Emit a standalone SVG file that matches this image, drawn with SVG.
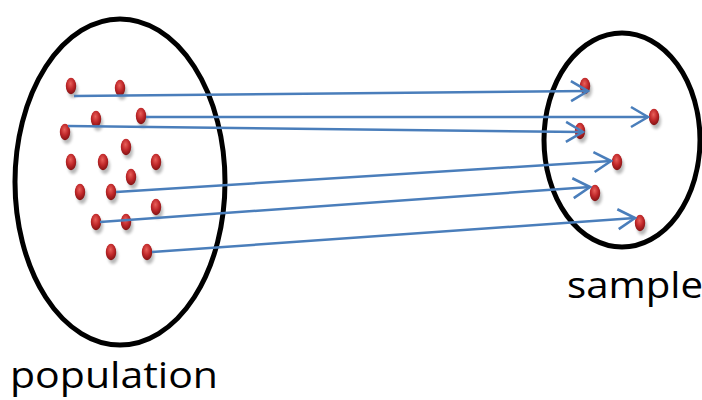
<svg xmlns="http://www.w3.org/2000/svg" width="702" height="400" viewBox="0 0 702 400">
<style>
.set{fill:none;stroke:#000;stroke-width:5}
.dot{fill:url(#red)}
.sh{fill:#000;opacity:0.28;filter:url(#blur)}
.conn path{fill:none;stroke:#4a7ebb;stroke-width:2.5;marker-end:url(#arr)}
.lbl{font-family:"Open Sans","Liberation Sans",sans-serif;font-size:36px;fill:#000}
</style>
<defs>
<radialGradient id="red" cx="0.45" cy="0.35" r="0.7">
<stop offset="0" stop-color="#e8605a"/>
<stop offset="0.5" stop-color="#c0282a"/>
<stop offset="1" stop-color="#7a0f10"/>
</radialGradient>
<filter id="blur" x="-1" y="-1" width="3" height="3"><feGaussianBlur stdDeviation="1.8"/></filter>
<marker id="arr" markerUnits="userSpaceOnUse" viewBox="-2 -2 21 24" refX="17" refY="10" markerWidth="21" markerHeight="24" orient="auto">
<path d="M0,0 L17,10 L0,20" fill="none" stroke="#4a7ebb" stroke-width="2.6"/>
</marker>
<g id="d"><ellipse class="sh" cx="2" cy="4" rx="5" ry="8"/><ellipse class="dot" cx="0" cy="0" rx="5.2" ry="8.2"/></g>
</defs>
<g id="population">
<ellipse class="set" cx="120" cy="182" rx="105" ry="163"/>
<use href="#d" x="71" y="86"/>
<use href="#d" x="120" y="88"/>
<use href="#d" x="96" y="119"/>
<use href="#d" x="141" y="116"/>
<use href="#d" x="65" y="132"/>
<use href="#d" x="126" y="147"/>
<use href="#d" x="71" y="162"/>
<use href="#d" x="103" y="162"/>
<use href="#d" x="156" y="162"/>
<use href="#d" x="131" y="177"/>
<use href="#d" x="80" y="192"/>
<use href="#d" x="111" y="192"/>
<use href="#d" x="156" y="207"/>
<use href="#d" x="96" y="222"/>
<use href="#d" x="126" y="222"/>
<use href="#d" x="111" y="252"/>
<use href="#d" x="147" y="252"/>
<text class="lbl" x="10" y="388" textLength="208" lengthAdjust="spacingAndGlyphs">population</text>
</g>
<g id="sample">
<ellipse class="set" cx="622" cy="140" rx="78" ry="107"/>
<use href="#d" x="585" y="86"/>
<use href="#d" x="654" y="117"/>
<use href="#d" x="580" y="131"/>
<use href="#d" x="617" y="162"/>
<use href="#d" x="595" y="193"/>
<use href="#d" x="640" y="223"/>
<text class="lbl" x="567" y="298" textLength="136" lengthAdjust="spacingAndGlyphs">sample</text>
</g>
<g class="conn" id="connectors">
<path d="M74,96 L588,91"/>
<path d="M146,117 L648,117"/>
<path d="M68,126 L583,132"/>
<path d="M116,192 L611,161"/>
<path d="M100,222 L590,187"/>
<path d="M152,252 L635,218"/>
</g>
</svg>
